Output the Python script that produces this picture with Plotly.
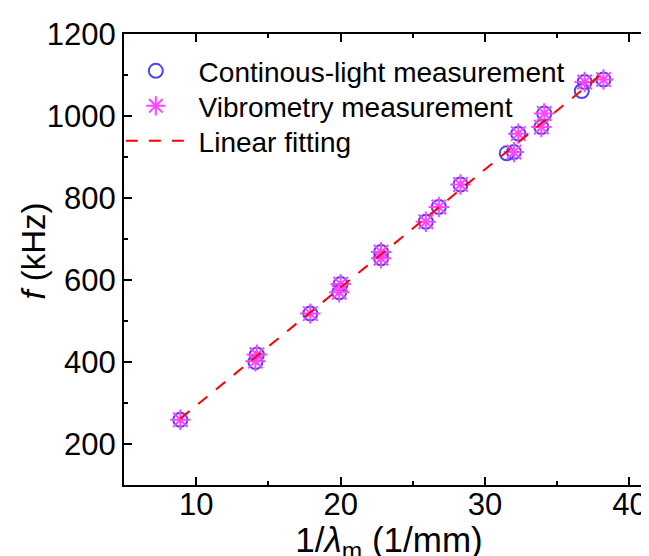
import plotly.graph_objects as go

# Continuous-light measurement (blue circles)
x_cont = [8.9, 14.1, 14.2, 17.9, 19.9, 20.0, 22.8, 22.8, 25.9, 26.8, 28.3, 31.5, 32.0, 32.3, 33.9, 34.1, 36.7, 36.9, 38.2]
f_cont = [259, 400, 418, 518, 570, 590, 653, 668, 742, 778, 833, 909, 912, 957, 973, 1006, 1061, 1083, 1089]

# Vibrometry measurement (magenta asterisks)
x_vib = [8.9, 14.1, 14.2, 17.9, 19.9, 20.0, 22.8, 22.8, 25.9, 26.8, 28.3, 32.0, 32.3, 33.9, 34.1, 36.9, 38.2]
f_vib = [259, 402, 418, 518, 570, 590, 653, 668, 742, 778, 833, 912, 957, 973, 1006, 1083, 1089]

# Linear fitting
fit_slope = 28.8
fit_intercept = 5.7
fit_x = [8.9, 38.3]
fit_y = [fit_slope * v + fit_intercept for v in fit_x]

FONT = "Liberation Sans, Arial, sans-serif"

fig = go.Figure()
fig.add_trace(go.Scatter(
    x=x_cont, y=f_cont, mode="markers", name=" Continous-light measurement", legend="legend",
    marker=dict(symbol="circle-open", size=14, color="#4848f0", line=dict(width=2, color="#4848f0")),
))
fig.add_trace(go.Scatter(
    x=x_vib, y=f_vib, mode="markers", name=" Vibrometry measurement", legend="legend2",
    marker=dict(symbol="asterisk-open", size=17, color="#ff44ff", line=dict(width=2, color="#ff44ff")),
))
fig.add_trace(go.Scatter(
    x=fit_x, y=fit_y, mode="lines", name=" Linear fitting", legend="legend3",
    line=dict(color="#ff0000", width=2, dash="12px,11px"),
))

axis_common = dict(
    showline=True, linecolor="black", linewidth=2, mirror="allticks",
    ticks="inside", ticklen=8, tickwidth=1.5, tickcolor="black",
    showgrid=False, zeroline=False,
    tickfont=dict(family=FONT, size=31, color="black"),
)

fig.update_xaxes(
    range=[5, 41.7], tickvals=[10, 20, 30, 40],
    minor=dict(tickvals=[15, 25, 35], ticks="inside", ticklen=4, tickwidth=1.5, tickcolor="black"),
    ticklabelstandoff=-9,
    title=dict(text="1/<i>λ</i><sub>m</sub> (1/mm)", font=dict(family=FONT, size=35, color="black"), standoff=6),
    **axis_common,
)
fig.update_yaxes(
    range=[100, 1200], tickvals=[200, 400, 600, 800, 1000, 1200],
    minor=dict(tickvals=[300, 500, 700, 900, 1100], ticks="inside", ticklen=4, tickwidth=1.5, tickcolor="black"),
    **axis_common,
)

# y-axis title placed at the reference's position
fig.add_annotation(
    text="<i>f</i> (kHz)", textangle=-90, xref="paper", yref="paper",
    x=(24.7 - 116) / 532.0, y=(477 - 243.5) / 451.0, xanchor="center", yanchor="middle",
    showarrow=False, font=dict(family=FONT, size=33, color="black"),
)

legend_common = dict(
    x=-0.006, xanchor="left", yanchor="top", visible=True,
    bgcolor="rgba(0,0,0,0)", borderwidth=0,
    font=dict(family=FONT, size=28, color="black"),
    itemwidth=60, tracegroupgap=0,
)

fig.update_layout(
    width=649, height=556,
    margin=dict(l=116, r=1, t=26, b=79),
    paper_bgcolor="white", plot_bgcolor="white",
    font=dict(family=FONT, color="black"),
    showlegend=True,
    legend=dict(y=0.9732, **legend_common),
    legend2=dict(y=0.8956, **legend_common),
    legend3=dict(y=0.8180, **legend_common),
)

fig.write_html("out.html")
